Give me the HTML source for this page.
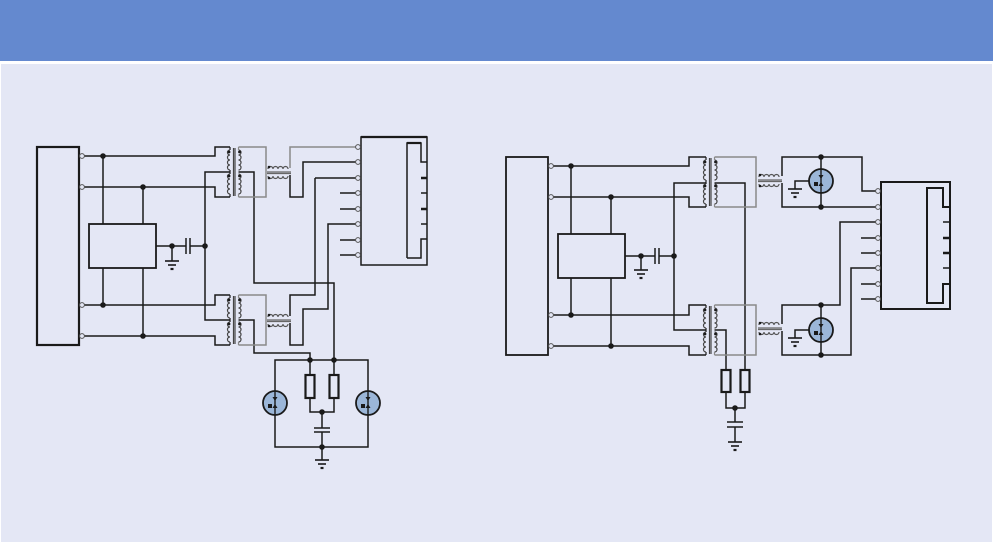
<!DOCTYPE html>
<html><head><meta charset="utf-8"><style>
html,body{margin:0;padding:0;width:993px;height:542px;overflow:hidden;background:#fff;font-family:"Liberation Sans",sans-serif}
</style></head><body>
<svg width="993" height="542" viewBox="0 0 993 542" xmlns="http://www.w3.org/2000/svg">
<defs>
<path id="cL" d="M0 0 a2.5 2.5 0 0 0 0 5 a2.5 2.5 0 0 0 0 5 a2.5 2.5 0 0 0 0 5 a2.5 2.5 0 0 0 0 5" fill="none"/>
<path id="cR" d="M0 0 a2.5 2.5 0 0 1 0 5 a2.5 2.5 0 0 1 0 5 a2.5 2.5 0 0 1 0 5 a2.5 2.5 0 0 1 0 5" fill="none"/>
<path id="hU" d="M0 0 a2.5 2.5 0 0 1 5 0 a2.5 2.5 0 0 1 5 0 a2.5 2.5 0 0 1 5 0 a2.5 2.5 0 0 1 5 0" fill="none"/>
<path id="hD" d="M0 0 a2.5 2.5 0 0 0 5 0 a2.5 2.5 0 0 0 5 0 a2.5 2.5 0 0 0 5 0 a2.5 2.5 0 0 0 5 0" fill="none"/>
<g id="T" stroke-width="1.2">
 <line x1="0" y1="0" x2="0" y2="3" stroke="#1a1a1a"/><line x1="0" y1="47" x2="0" y2="50" stroke="#1a1a1a"/>
 <line x1="0" y1="23" x2="0" y2="27" stroke="#1a1a1a"/>
 <use href="#cL" x="0" y="3" stroke="#444"/><use href="#cL" x="0" y="27" stroke="#444"/>
 <line x1="3.5" y1="1" x2="3.5" y2="49" stroke="#444"/><line x1="5" y1="1" x2="5" y2="49" stroke="#444"/>
 <use href="#cR" x="8.5" y="3" stroke="#444"/><use href="#cR" x="8.5" y="27" stroke="#444"/>
 <line x1="8.5" y1="0" x2="8.5" y2="3" stroke="#888"/><line x1="8.5" y1="47" x2="8.5" y2="50" stroke="#888"/>
 <circle cx="-1" cy="5" r="1.4" fill="#1a1a1a" stroke="none"/><circle cx="9.5" cy="5" r="1.4" fill="#1a1a1a" stroke="none"/>
 <circle cx="-1" cy="29" r="1.4" fill="#1a1a1a" stroke="none"/><circle cx="9.5" cy="29" r="1.4" fill="#1a1a1a" stroke="none"/>
</g>
<g id="CH" stroke-width="1.2">
 <use href="#hU" x="0" y="0" stroke="#555"/><use href="#hD" x="0" y="7" stroke="#555"/>
 <line x1="-1" y1="3" x2="23" y2="3" stroke="#666"/><line x1="-1" y1="4.5" x2="23" y2="4.5" stroke="#666"/>
 <circle cx="1" cy="-2" r="1.3" fill="#1a1a1a"/><circle cx="1" cy="9" r="1.3" fill="#1a1a1a"/>
</g>
<g id="G"><line x1="-7" y1="0" x2="7" y2="0" stroke="#1a1a1a" stroke-width="1.6"/><line x1="-4" y1="4" x2="4" y2="4" stroke="#1a1a1a" stroke-width="1.6"/><line x1="-1.5" y1="8" x2="1.5" y2="8" stroke="#1a1a1a" stroke-width="2.2"/></g>
<g id="GDT">
 <circle r="12" fill="#9bb6d8" stroke="#1a1a1a" stroke-width="1.8"/>
 <line x1="0" y1="-12" x2="0" y2="12" stroke="#1a1a1a" stroke-width="1.4"/>
 <path d="M-2.5 -6 L2.5 -6 L0 -2 Z" fill="#1a1a1a"/><path d="M-2.5 5 L2.5 5 L0 1 Z" fill="#1a1a1a"/>
 <rect x="-7" y="1" width="4" height="4" fill="#1a1a1a"/>
</g>
</defs>
<rect x="0" y="0" width="993" height="61" fill="#6489cf"/>
<rect x="0" y="61" width="993" height="3" fill="#fff"/>
<rect x="1" y="64" width="991" height="478" fill="#e4e7f5"/>

<g fill="none" stroke="#1a1a1a" stroke-width="1.5">
<!-- LEFT CIRCUIT -->
<rect x="37" y="147" width="42" height="198" stroke-width="2.2"/>
<rect x="89" y="224" width="67" height="44" stroke-width="1.8"/>
<polyline points="84,156 215,156 215,147 230,147"/>
<polyline points="84,187 215,187 215,197 230,197"/>
<polyline points="84,305 215,305 215,295 230,295"/>
<polyline points="84,336 215,336 215,345 230,345"/>
<line x1="103" y1="156" x2="103" y2="224"/><line x1="143" y1="187" x2="143" y2="224"/>
<line x1="103" y1="268" x2="103" y2="305"/><line x1="143" y1="268" x2="143" y2="336"/>
<polyline points="156,246 186,246"/><polyline points="190,246 205,246"/>
<line x1="186" y1="238" x2="186" y2="254"/><line x1="190" y1="238" x2="190" y2="254"/>
<line x1="172" y1="246" x2="172" y2="261"/>
<polyline points="230,172 205,172 205,320 230,320"/>
<polyline points="238.5,172 254,172 254,283 334,283 334,360"/>
<polyline points="238.5,320 254,320 254,353 310,353 310,360"/>
<polyline points="315,178 315,295 290,295 290,316"/>
<polyline points="358,178 315,178"/>
<polyline points="290,323 290,345 303,345 303,309 328,309 328,224 358,224"/>
<line x1="340" y1="193" x2="358" y2="193"/><line x1="340" y1="209" x2="358" y2="209"/>
<line x1="340" y1="240" x2="358" y2="240"/><line x1="340" y1="255" x2="358" y2="255"/>
<rect x="361" y="137" width="66" height="128"/>
<line x1="361" y1="137" x2="427" y2="137" stroke-width="2.2"/>
<polyline points="407,258 407,143 421,143 421,162 427,162"/>
<polyline points="427,239 421,239 421,258 407,258"/>
<line x1="407" y1="143" x2="421" y2="143" stroke-width="2.2"/>
<line x1="421" y1="178" x2="427" y2="178" stroke-width="2.5"/><line x1="421" y1="193" x2="427" y2="193"/>
<line x1="421" y1="209" x2="427" y2="209" stroke-width="2.5"/><line x1="421" y1="224" x2="427" y2="224"/>
<!-- bottom protection -->
<polyline points="275,391 275,360 368,360 368,391"/>
<polyline points="275,415 275,447 368,447 368,415"/>
<line x1="310" y1="360" x2="310" y2="375"/><line x1="334" y1="360" x2="334" y2="375"/>
<rect x="305.5" y="375" width="9" height="23" stroke-width="2.2"/><rect x="329.5" y="375" width="9" height="23" stroke-width="2.2"/>
<polyline points="310,398 310,412 334,412 334,398"/>
<line x1="322" y1="412" x2="322" y2="428"/><line x1="314" y1="428" x2="330" y2="428"/>
<line x1="314" y1="432" x2="330" y2="432"/><line x1="322" y1="432" x2="322" y2="460"/>

<!-- RIGHT CIRCUIT -->
<rect x="506" y="157" width="42" height="198" stroke-width="1.8"/>
<rect x="558" y="234" width="67" height="44" stroke-width="1.8"/>
<polyline points="553,166 689,166 689,157 706,157"/>
<polyline points="553,197 689,197 689,207 706,207"/>
<polyline points="553,315 689,315 689,305 706,305"/>
<polyline points="553,346 689,346 689,355 706,355"/>
<line x1="571" y1="166" x2="571" y2="234"/><line x1="611" y1="197" x2="611" y2="234"/>
<line x1="571" y1="278" x2="571" y2="315"/><line x1="611" y1="278" x2="611" y2="346"/>
<line x1="625" y1="256" x2="655" y2="256"/><line x1="659" y1="256" x2="674" y2="256"/>
<line x1="655" y1="248" x2="655" y2="264"/><line x1="659" y1="248" x2="659" y2="264"/>
<line x1="641" y1="256" x2="641" y2="270"/>
<polyline points="706,183 674,183 674,330 706,330"/>
<polyline points="714.5,183 745,183 745,370"/>
<polyline points="714.5,330 726,330 726,370"/>
<rect x="721.5" y="370" width="9" height="22" stroke-width="2.2"/><rect x="740.5" y="370" width="9" height="22" stroke-width="2.2"/>
<polyline points="726,392 726,408 745,408 745,392"/>
<line x1="735" y1="408" x2="735" y2="422"/><line x1="727" y1="422" x2="743" y2="422"/>
<line x1="727" y1="427" x2="743" y2="427"/><line x1="735" y1="427" x2="735" y2="442"/>
<polyline points="782,176 782,157 862,157 862,191 878,191"/>
<polyline points="782,183 782,207 878,207"/>
<line x1="821" y1="157" x2="821" y2="169"/><line x1="821" y1="193" x2="821" y2="207"/>
<polyline points="809,181 795,181 795,189"/>
<polyline points="782,324 782,305 840,305 840,222 878,222"/>
<polyline points="782,331 782,355 851,355 851,268 878,268"/>
<line x1="821" y1="305" x2="821" y2="318"/><line x1="821" y1="342" x2="821" y2="355"/>
<polyline points="809,330 795,330 795,338"/>
<line x1="861" y1="238" x2="878" y2="238"/><line x1="861" y1="253" x2="878" y2="253"/>
<line x1="861" y1="284" x2="878" y2="284"/><line x1="861" y1="299" x2="878" y2="299"/>
<rect x="881" y="182" width="69" height="127" stroke-width="2"/>
<polyline points="945,207 943,207 943,188 927,188 927,303 943,303 943,284 950,284" stroke-width="2"/>
<line x1="943" y1="207" x2="950" y2="207" stroke-width="2"/>
<line x1="943" y1="222" x2="950" y2="222"/><line x1="943" y1="238" x2="950" y2="238" stroke-width="2.5"/>
<line x1="943" y1="253" x2="950" y2="253" stroke-width="2.5"/><line x1="943" y1="268" x2="950" y2="268"/>
</g>

<g fill="none" stroke="#8a8a8a" stroke-width="1.5">
<polyline points="238.5,147 266,147 266,197 238.5,197"/>
<polyline points="290,168 290,147 358,147"/>
<polyline points="290,175 290,197 303,197 303,162 358,162" stroke="#1a1a1a"/>
<polyline points="238.5,295 266,295 266,345 238.5,345"/>
<polyline points="714.5,157 756,157 756,207 714.5,207"/>
<polyline points="714.5,305 756,305 756,355 714.5,355"/>
</g>

<use href="#T" x="230" y="147"/><use href="#T" x="230" y="295"/>
<use href="#T" x="706" y="157"/><use href="#T" x="706" y="305"/>
<use href="#CH" x="268" y="169"/><use href="#CH" x="268" y="317"/>
<use href="#CH" x="759" y="177"/><use href="#CH" x="759" y="325"/>
<use href="#GDT" x="275" y="403"/><use href="#GDT" x="368" y="403"/>
<use href="#GDT" x="821" y="181"/><use href="#GDT" x="821" y="330"/>
<use href="#G" x="172" y="261"/><use href="#G" x="322" y="460"/>
<use href="#G" x="641" y="270"/><use href="#G" x="735" y="442"/>
<use href="#G" x="795" y="189"/><use href="#G" x="795" y="338"/>

<g fill="#1a1a1a">
<circle cx="103" cy="156" r="2.8"/><circle cx="143" cy="187" r="2.8"/>
<circle cx="103" cy="305" r="2.8"/><circle cx="143" cy="336" r="2.8"/>
<circle cx="172" cy="246" r="2.8"/><circle cx="205" cy="246" r="2.8"/>
<circle cx="310" cy="360" r="2.8"/><circle cx="334" cy="360" r="2.8"/>
<circle cx="322" cy="412" r="2.8"/><circle cx="322" cy="447" r="2.8"/>
<circle cx="571" cy="166" r="2.8"/><circle cx="611" cy="197" r="2.8"/>
<circle cx="571" cy="315" r="2.8"/><circle cx="611" cy="346" r="2.8"/>
<circle cx="641" cy="256" r="2.8"/><circle cx="674" cy="256" r="2.8"/>
<circle cx="735" cy="408" r="2.8"/>
<circle cx="821" cy="157" r="2.8"/><circle cx="821" cy="207" r="2.8"/>
<circle cx="821" cy="305" r="2.8"/><circle cx="821" cy="355" r="2.8"/>
</g>
<g fill="#e4e7f5" stroke="#555" stroke-width="1">
<circle cx="82" cy="156" r="2.4"/><circle cx="82" cy="187" r="2.4"/><circle cx="82" cy="305" r="2.4"/><circle cx="82" cy="336" r="2.4"/>
<circle cx="551" cy="166" r="2.4"/><circle cx="551" cy="197" r="2.4"/><circle cx="551" cy="315" r="2.4"/><circle cx="551" cy="346" r="2.4"/>
<circle cx="358" cy="147" r="2.4"/><circle cx="358" cy="162" r="2.4"/><circle cx="358" cy="178" r="2.4"/><circle cx="358" cy="193" r="2.4"/>
<circle cx="358" cy="209" r="2.4"/><circle cx="358" cy="224" r="2.4"/><circle cx="358" cy="240" r="2.4"/><circle cx="358" cy="255" r="2.4"/>
<circle cx="878" cy="191" r="2.4"/><circle cx="878" cy="207" r="2.4"/><circle cx="878" cy="222" r="2.4"/><circle cx="878" cy="238" r="2.4"/>
<circle cx="878" cy="253" r="2.4"/><circle cx="878" cy="268" r="2.4"/><circle cx="878" cy="284" r="2.4"/><circle cx="878" cy="299" r="2.4"/>
</g>
</svg>
</body></html>
